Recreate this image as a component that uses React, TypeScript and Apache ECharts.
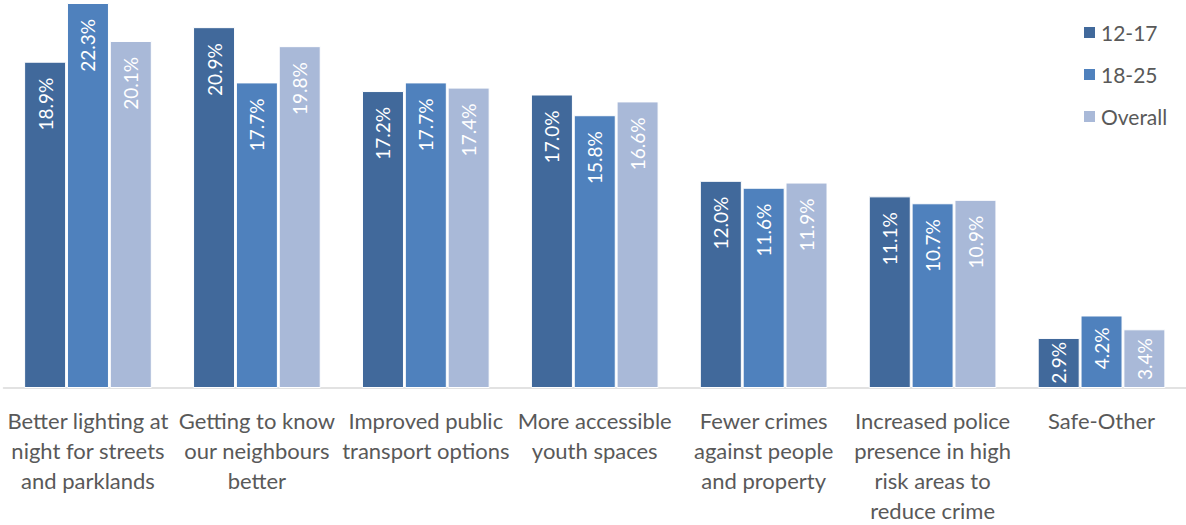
import React, { useEffect, useRef } from "react";
import * as echarts from "echarts";

const categories = [
  "Better lighting at\nnight for streets\nand parklands",
  "Getting to know\nour neighbours\nbetter",
  "Improved public\ntransport options",
  "More accessible\nyouth spaces",
  "Fewer crimes\nagainst people\nand property",
  "Increased police\npresence in high\nrisk areas to\nreduce crime",
  "Safe-Other",
];
const seriesNames = ["12-17", "18-25", "Overall"];
const values1217 = [18.9, 20.9, 17.2, 17.0, 12.0, 11.1, 2.9];
const values1825 = [22.3, 17.7, 17.7, 15.8, 11.6, 10.7, 4.2];
const valuesOverall = [20.1, 19.8, 17.4, 16.6, 11.9, 10.9, 3.4];
const colors = ["#41699B", "#4F81BD", "#A9B9D8"];
// label offsets from the bar end (short bars keep the label inside)
const labelDistances = [
  [16, 16, 16, 16, 16, 16, 4],
  [16, 16, 16, 16, 16, 16, 12],
  [16, 16, 16, 16, 16, 16, 9],
];

const FONT = "Lato, 'Noto Sans', sans-serif";

export default function App() {
  const ref = useRef<HTMLDivElement>(null);
  useEffect(() => {
    if (!ref.current) return;
    const chart = echarts.init(ref.current, null, { renderer: "svg" });
    const data = [values1217, values1825, valuesOverall];
    chart.setOption({
      animation: false,
      textStyle: { fontFamily: FONT },
      grid: { left: 3.5, right: -0.5, top: 3, bottom: 133, containLabel: false },
      legend: {
        orient: "vertical",
        left: 1082,
        top: 22,
        padding: 0,
        itemWidth: 13,
        itemHeight: 13,
        itemGap: 21,
        icon: "rect",
        textStyle: { fontSize: 21, color: "#595959", fontFamily: FONT },
        data: seriesNames,
      },
      xAxis: {
        type: "category",
        data: categories,
        axisLine: { show: true, lineStyle: { color: "#D9D9D9", width: 1.5 } },
        axisTick: { show: false },
        axisLabel: {
          interval: 0,
          fontSize: 22,
          lineHeight: 30,
          color: "#595959",
          margin: 17,
          fontFamily: FONT,
        },
      },
      yAxis: {
        type: "value",
        min: 0,
        max: 22.3,
        show: false,
        splitLine: { show: false },
      },
      series: seriesNames.map((name, i) => ({
        name,
        type: "bar",
        data: data[i].map((v, j) => ({ value: v, label: { distance: labelDistances[i][j] } })),
        barWidth: 42,
        barGap: "2%",
        itemStyle: { color: colors[i], borderColor: "#ffffff", borderWidth: 1 },
        label: {
          show: true,
          position: "insideTop",
          rotate: 90,
          align: "right",
          verticalAlign: "middle",
          distance: 16,
          color: "#ffffff",
          fontSize: 19,
          fontFamily: FONT,
          formatter: (p: any) => p.value.toFixed(1) + "%",
        },
      })),
    });
    return () => chart.dispose();
  }, []);
  return (
    <div
      ref={ref}
      style={{ position: "fixed", left: 0, top: 0, width: 1186, height: 525, background: "#fff" }}
    />
  );
}
